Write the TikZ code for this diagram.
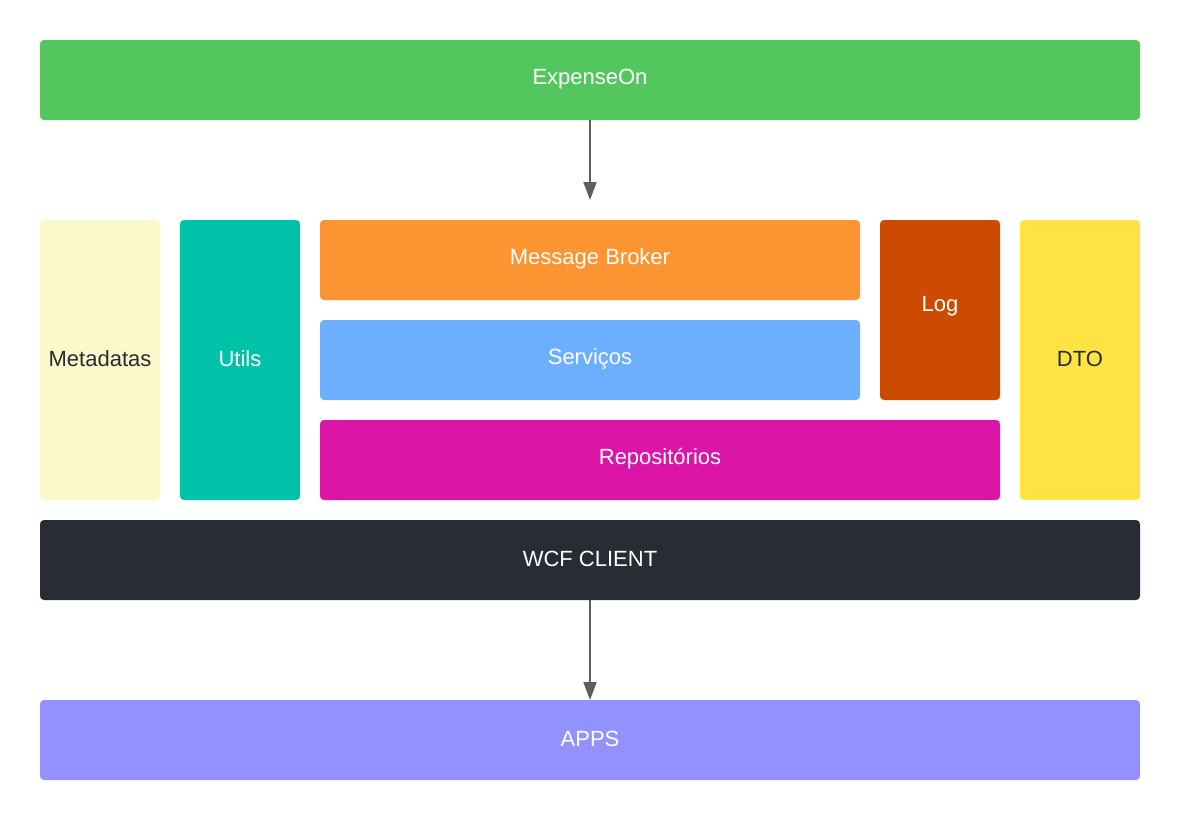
\documentclass[tikz,border=0pt]{standalone}
\usepackage{fontspec}
\setmainfont{Liberation Sans}
\usetikzlibrary{arrows.meta}
\definecolor{cgreen}{HTML}{54C65E}
\definecolor{cmeta}{HTML}{FBF9C9}
\definecolor{cutils}{HTML}{00C2A8}
\definecolor{cbroker}{HTML}{FC9432}
\definecolor{cserv}{HTML}{6BAFFE}
\definecolor{clog}{HTML}{CC4B00}
\definecolor{crepo}{HTML}{DA15A8}
\definecolor{cdto}{HTML}{FFE342}
\definecolor{cwcf}{HTML}{282C34}
\definecolor{capps}{HTML}{9391FE}
\definecolor{carrow}{HTML}{5E5E5E}
\definecolor{cdark}{HTML}{282C34}
\begin{document}
\begin{tikzpicture}[x=1pt,y=-1pt,
  blk/.style={rounded corners=4pt,draw=none},
  lbl/.style={font=\fontsize{22}{26}\selectfont,anchor=center,inner sep=0pt},
  conn/.style={draw=carrow,line width=2pt,-{Triangle[length=18pt,width=13pt]}}]
\useasboundingbox (0,0) rectangle (1180,820);
% boxes
\fill[blk,cgreen] (40,40) rectangle (1140,120);
\node[lbl,text=white] (exp) at (590,79) {ExpenseOn};
\fill[blk,cmeta] (40,220) rectangle (160,500);
\node[lbl,text=cdark] (meta) at (100,359) {Metadatas};
\fill[blk,cutils] (180,220) rectangle (300,500);
\node[lbl,text=white] (utils) at (240,359) {Utils};
\fill[blk,cbroker] (320,220) rectangle (860,300);
\node[lbl,text=white] (broker) at (590,259) {Message Broker};
\fill[blk,cserv] (320,320) rectangle (860,400);
\node[lbl,text=white] (serv) at (590,359) {Serviços};
\fill[blk,clog] (880,220) rectangle (1000,400);
\node[lbl,text=white] (log) at (940,306) {Log};
\fill[blk,crepo] (320,420) rectangle (1000,500);
\node[lbl,text=white] (repo) at (660,459) {Repositórios};
\fill[blk,cdto] (1020,220) rectangle (1140,500);
\node[lbl,text=cdark] (dto) at (1080,359) {DTO};
\fill[blk,cwcf] (40,520) rectangle (1140,600);
\node[lbl,text=white] (wcf) at (590,559) {WCF CLIENT};
\fill[blk,capps] (40,700) rectangle (1140,780);
\node[lbl,text=white] (apps) at (590,739) {APPS};
% connector anchors
\coordinate (expB) at (590,120);
\coordinate (midT) at (590,200);
\coordinate (wcfB) at (590,600);
\coordinate (appsT) at (590,700);
\draw[conn] (expB) -- (midT);
\draw[conn] (wcfB) -- (appsT);
\end{tikzpicture}
\end{document}
